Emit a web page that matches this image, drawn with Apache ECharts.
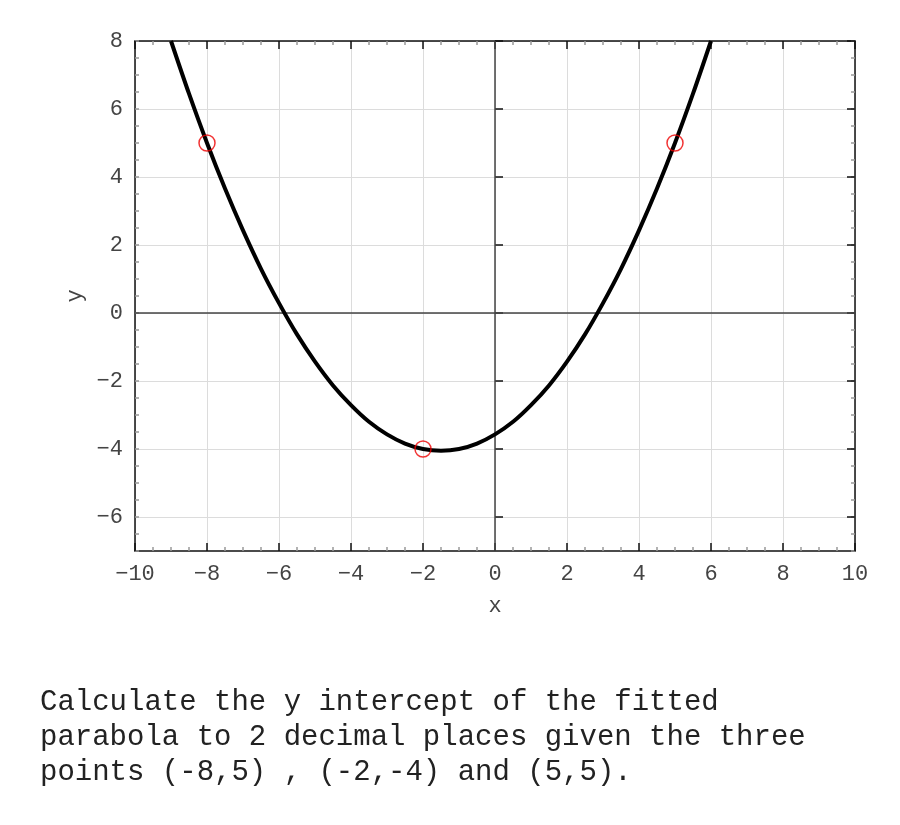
<!DOCTYPE html>
<html>
<head>
<meta charset="utf-8">
<script src="https://cdn.jsdelivr.net/npm/echarts@6/dist/echarts.min.js"></script>
<style>
html,body{margin:0;padding:0;background:#fff;}
#c{width:900px;height:825px;}
</style>
</head>
<body>
<div id="c"></div>
<script>
// Fitted parabola, every 0.5 in x
var curveX = [-9,-8.5,-8,-7.5,-7,-6.5,-6,-5.5,-5,-4.5,-4,-3.5,-3,-2.5,-2,-1.5,-1,-0.5,0,0.5,1,1.5,2,2.5,3,3.5,4,4.5,5,5.5,6];
var curveY = [8.00,6.45,5.00,3.66,2.43,1.30,0.29,-0.63,-1.43,-2.13,-2.71,-3.20,-3.57,-3.84,-4.00,-4.05,-4.00,-3.84,-3.57,-3.20,-2.71,-2.13,-1.43,-0.63,0.29,1.30,2.43,3.66,5.00,6.45,8.00];
// Given points
var pointX = [-8,-2,5];
var pointY = [5,-4,5];
// Question text
var questionLines = [
  'Calculate the y intercept of the fitted',
  'parabola to 2 decimal places given the three',
  'points (-8,5) , (-2,-4) and (5,5).'
];

var FONT = 'Liberation Mono';
var LABEL_COLOR = '#444';

var chart = echarts.init(document.getElementById('c'), null, {renderer: 'canvas'});

var frameAxisX = function (pos, showLabel) {
  return {
    gridIndex: 0, type: 'value', position: pos, min: -10, max: 10, interval: 2,
    axisLine: {show: true, onZero: false, lineStyle: {color: '#111', width: 1.5}},
    axisTick: {show: true, inside: true, length: 8, lineStyle: {color: '#111', width: 1.5}},
    minorTick: {show: true, splitNumber: 4, length: 4, lineStyle: {color: '#999', width: 1.5}},
    axisLabel: {show: showLabel, margin: 12, fontFamily: FONT, fontSize: 22, color: LABEL_COLOR,
      formatter: function (v) { return String(v).replace('-', '\u2212'); }},
    splitLine: {show: showLabel, lineStyle: {color: '#dcdcdc', width: 1}},
    name: showLabel ? 'x' : '', nameLocation: 'middle', nameGap: 44,
    nameTextStyle: {fontFamily: FONT, fontSize: 22, color: LABEL_COLOR}
  };
};
var minorAxisY = function (pos, name) {
  return {
    gridIndex: 0, type: 'value', position: pos, min: -7, max: 8, interval: 0.5,
    axisLine: {show: true, onZero: false, lineStyle: {color: '#111', width: 1.5}},
    axisTick: {show: true, inside: true, length: 4, lineStyle: {color: '#999', width: 1.5}},
    axisLabel: {show: false},
    splitLine: {show: false},
    name: name, nameLocation: 'middle', nameGap: 49, nameRotate: 90,
    nameTextStyle: {fontFamily: FONT, fontSize: 22, color: LABEL_COLOR}
  };
};
var majorAxisY = function (pos, showLabel) {
  return {
    gridIndex: 1, type: 'value', position: pos, min: -6, max: 8, interval: 2,
    axisLine: {show: false},
    axisTick: {show: true, inside: true, length: 8, lineStyle: {color: '#111', width: 1.5}},
    axisLabel: {show: showLabel, margin: 12, fontFamily: FONT, fontSize: 22, color: LABEL_COLOR,
      formatter: function (v) { return String(v).replace('-', '\u2212'); }},
    splitLine: {show: showLabel, lineStyle: {color: '#dcdcdc', width: 1}}
  };
};

var option = {
  backgroundColor: '#fff',
  animation: false,
  title: {
    text: questionLines.join('\n'),
    left: 40, top: 685, padding: 0,
    textStyle: {fontFamily: FONT, fontSize: 29, fontWeight: 'normal', color: '#222', lineHeight: 35}
  },
  grid: [
    {left: 135, width: 720, top: 41, height: 510},
    {left: 135, width: 720, top: 41, height: 476}
  ],
  xAxis: [
    frameAxisX('bottom', true),
    frameAxisX('top', false),
    {gridIndex: 1, type: 'value', min: -10, max: 10, show: false}
  ],
  yAxis: [
    minorAxisY('left', 'y'),
    minorAxisY('right', ''),
    majorAxisY('left', true),
    majorAxisY('right', false)
  ],
  series: [
    {
      type: 'line', xAxisIndex: 0, yAxisIndex: 0,
      data: curveX.map(function (x, i) { return [x, curveY[i]]; }),
      smooth: 0.3, showSymbol: false, clip: true,
      lineStyle: {color: '#000', width: 4}, z: 3,
      markLine: {
        silent: true, symbol: ['none', 'none'], label: {show: false},
        lineStyle: {color: '#444', width: 1.5, type: 'solid'},
        data: [{xAxis: 0}, {yAxis: 0}], z: 2
      }
    },
    {
      type: 'scatter', xAxisIndex: 0, yAxisIndex: 0,
      data: pointX.map(function (x, i) { return [x, pointY[i]]; }),
      symbol: 'circle', symbolSize: 16, z: 4,
      itemStyle: {color: 'rgba(0,0,0,0)', borderColor: '#e00', borderWidth: 1.5}
    }
  ]
};
chart.setOption(option);
</script>
</body>
</html>
